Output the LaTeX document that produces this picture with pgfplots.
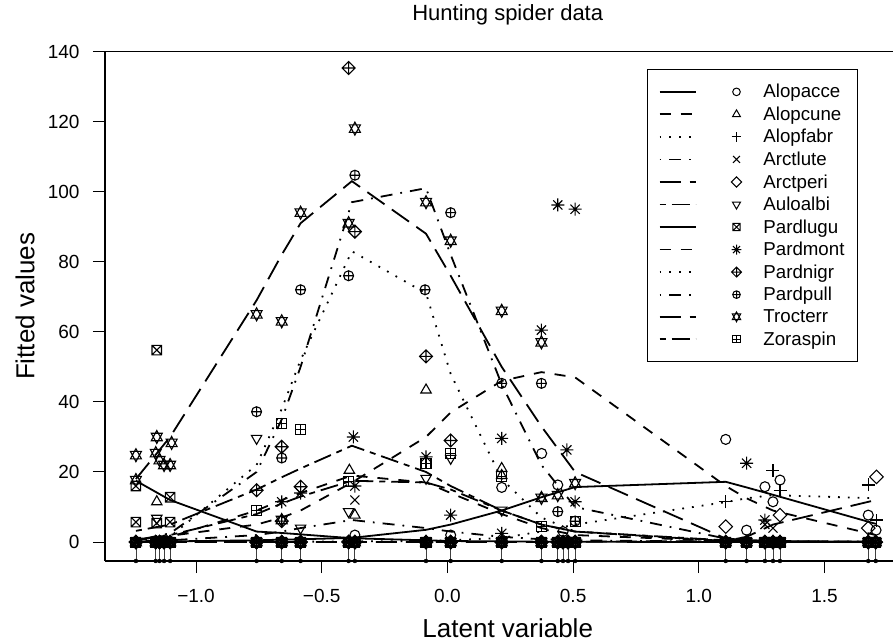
\documentclass[border=0pt]{standalone}
\usepackage{fontspec}
\setmainfont{Liberation Sans}
\usepackage{pgfplots}
\usepackage{pgfplotstable}
\pgfplotsset{compat=1.18}

% R plotting symbols (pch 2, 3, 4, 5, 6, 7, 8, 9, 11, 12)
\pgfdeclareplotmark{utri}{%
  \pgfpathmoveto{\pgfqpoint{0pt}{1.2\pgfplotmarksize}}%
  \pgfpathlineto{\pgfqpoint{1.04\pgfplotmarksize}{-0.6\pgfplotmarksize}}%
  \pgfpathlineto{\pgfqpoint{-1.04\pgfplotmarksize}{-0.6\pgfplotmarksize}}%
  \pgfpathclose\pgfusepathqstroke}
\pgfdeclareplotmark{dtri}{%
  \pgfpathmoveto{\pgfqpoint{0pt}{-1.2\pgfplotmarksize}}%
  \pgfpathlineto{\pgfqpoint{1.04\pgfplotmarksize}{0.6\pgfplotmarksize}}%
  \pgfpathlineto{\pgfqpoint{-1.04\pgfplotmarksize}{0.6\pgfplotmarksize}}%
  \pgfpathclose\pgfusepathqstroke}
\pgfdeclareplotmark{rdiam}{%
  \pgfpathmoveto{\pgfqpoint{1.35\pgfplotmarksize}{0pt}}%
  \pgfpathlineto{\pgfqpoint{0pt}{1.35\pgfplotmarksize}}%
  \pgfpathlineto{\pgfqpoint{-1.35\pgfplotmarksize}{0pt}}%
  \pgfpathlineto{\pgfqpoint{0pt}{-1.35\pgfplotmarksize}}%
  \pgfpathclose\pgfusepathqstroke}
\pgfdeclareplotmark{rx}{%
  \pgfpathmoveto{\pgfqpoint{-0.9\pgfplotmarksize}{-0.9\pgfplotmarksize}}\pgfpathlineto{\pgfqpoint{0.9\pgfplotmarksize}{0.9\pgfplotmarksize}}%
  \pgfpathmoveto{\pgfqpoint{-0.9\pgfplotmarksize}{0.9\pgfplotmarksize}}\pgfpathlineto{\pgfqpoint{0.9\pgfplotmarksize}{-0.9\pgfplotmarksize}}%
  \pgfusepathqstroke}
\pgfdeclareplotmark{rplus}{%
  \pgfpathmoveto{\pgfqpoint{-1.3\pgfplotmarksize}{0pt}}\pgfpathlineto{\pgfqpoint{1.3\pgfplotmarksize}{0pt}}%
  \pgfpathmoveto{\pgfqpoint{0pt}{-1.3\pgfplotmarksize}}\pgfpathlineto{\pgfqpoint{0pt}{1.3\pgfplotmarksize}}%
  \pgfusepathqstroke}
\pgfdeclareplotmark{dplus}{%
  \pgfpathmoveto{\pgfqpoint{1.3\pgfplotmarksize}{0pt}}%
  \pgfpathlineto{\pgfqpoint{0pt}{1.3\pgfplotmarksize}}%
  \pgfpathlineto{\pgfqpoint{-1.3\pgfplotmarksize}{0pt}}%
  \pgfpathlineto{\pgfqpoint{0pt}{-1.3\pgfplotmarksize}}%
  \pgfpathclose
  \pgfpathmoveto{\pgfqpoint{-1.3\pgfplotmarksize}{0pt}}\pgfpathlineto{\pgfqpoint{1.3\pgfplotmarksize}{0pt}}%
  \pgfpathmoveto{\pgfqpoint{0pt}{-1.3\pgfplotmarksize}}\pgfpathlineto{\pgfqpoint{0pt}{1.3\pgfplotmarksize}}%
  \pgfusepathqstroke}
\pgfdeclareplotmark{sqx}{%
  \pgfpathrectangle{\pgfqpoint{-0.95\pgfplotmarksize}{-0.95\pgfplotmarksize}}{\pgfqpoint{1.9\pgfplotmarksize}{1.9\pgfplotmarksize}}%
  \pgfpathmoveto{\pgfqpoint{-0.95\pgfplotmarksize}{-0.95\pgfplotmarksize}}\pgfpathlineto{\pgfqpoint{0.95\pgfplotmarksize}{0.95\pgfplotmarksize}}%
  \pgfpathmoveto{\pgfqpoint{-0.95\pgfplotmarksize}{0.95\pgfplotmarksize}}\pgfpathlineto{\pgfqpoint{0.95\pgfplotmarksize}{-0.95\pgfplotmarksize}}%
  \pgfusepathqstroke}
\pgfdeclareplotmark{sqplus}{%
  \pgfpathrectangle{\pgfqpoint{-\pgfplotmarksize}{-\pgfplotmarksize}}{\pgfqpoint{2\pgfplotmarksize}{2\pgfplotmarksize}}%
  \pgfpathmoveto{\pgfqpoint{-\pgfplotmarksize}{0pt}}\pgfpathlineto{\pgfqpoint{\pgfplotmarksize}{0pt}}%
  \pgfpathmoveto{\pgfqpoint{0pt}{-\pgfplotmarksize}}\pgfpathlineto{\pgfqpoint{0pt}{\pgfplotmarksize}}%
  \pgfusepathqstroke}
\pgfdeclareplotmark{star8}{%
  \pgfpathmoveto{\pgfqpoint{-1.3\pgfplotmarksize}{0pt}}\pgfpathlineto{\pgfqpoint{1.3\pgfplotmarksize}{0pt}}%
  \pgfpathmoveto{\pgfqpoint{0pt}{-1.3\pgfplotmarksize}}\pgfpathlineto{\pgfqpoint{0pt}{1.3\pgfplotmarksize}}%
  \pgfpathmoveto{\pgfqpoint{-0.92\pgfplotmarksize}{-0.92\pgfplotmarksize}}\pgfpathlineto{\pgfqpoint{0.92\pgfplotmarksize}{0.92\pgfplotmarksize}}%
  \pgfpathmoveto{\pgfqpoint{-0.92\pgfplotmarksize}{0.92\pgfplotmarksize}}\pgfpathlineto{\pgfqpoint{0.92\pgfplotmarksize}{-0.92\pgfplotmarksize}}%
  \pgfusepathqstroke}
\pgfdeclareplotmark{david}{%
  \pgfpathmoveto{\pgfqpoint{0pt}{1.3\pgfplotmarksize}}%
  \pgfpathlineto{\pgfqpoint{1.1\pgfplotmarksize}{-0.75\pgfplotmarksize}}%
  \pgfpathlineto{\pgfqpoint{-1.1\pgfplotmarksize}{-0.75\pgfplotmarksize}}%
  \pgfpathclose
  \pgfpathmoveto{\pgfqpoint{0pt}{-1.3\pgfplotmarksize}}%
  \pgfpathlineto{\pgfqpoint{1.1\pgfplotmarksize}{0.75\pgfplotmarksize}}%
  \pgfpathlineto{\pgfqpoint{-1.1\pgfplotmarksize}{0.75\pgfplotmarksize}}%
  \pgfpathclose\pgfusepathqstroke}

\pgfplotsset{
  lty1/.style={solid},
  lty2/.style={dash pattern=on 11bp off 10bp},
  lty3/.style={dash pattern=on 1.8bp off 8bp},
  lty4/.style={dash pattern=on 1.8bp off 8bp on 12bp off 8bp},
  lty5/.style={dash pattern=on 21bp off 9bp},
  lty6/.style={dash pattern=on 6bp off 6bp on 18bp off 6bp},
  fit/.style={no marks, line width=1.8bp, black, forget plot},
  pt/.style={only marks, mark size=5bp, line width=1.1bp, black, forget plot},
  rleg/.style={legend image code/.code={%
    \draw[##1,mark=none] (0bp,0bp) -- (36bp,0bp);
    \draw[##1,solid,line width=1bp,mark size=3.8bp] plot coordinates {(77bp,0bp)};
  }},
}

% fitted values at the site scores
\pgfplotstableread{
x      Alopacce Alopcune Alopfabr Arctlute Arctperi Auloalbi Pardlugu Pardmont Pardnigr Pardpull Trocterr Zoraspin
-1.239 0.1  0.5  0.0  0.2 0.0  0.5  17.5 0.8  0.3  0.5  18  3.2
-1.103 0.2  1.5  0.0  0.5 0.0  2.0  12.0 1.8  1.5  2.5  30  5.0
-0.759 0.5  9.0  0.0  2.0 0.0  8.0  3.0  5.0  22   20   69  15
-0.659 0.7  12   0.1  3.0 0.0  11   2.6  7.0  38   35   82  18.5
-0.584 0.8  14   0.1  4.0 0.0  13   2.2  9.0  52   50   91  21
-0.380 1.2  19   0.2  6.3 0.0  17.5 1.1  17   83   97   103 27.5
-0.085 3.5  17   0.3  4.0 0.0  17   0.5  30   71   101  88  20
0.013  5.0  14   0.5  3.0 0.0  15   0.3  37   48   82   76  16
0.216  9.0  8    1.2  1.5 0.0  9    0.2  46   18   45   50  9
0.374  12.8 4    3.0  0.8 0.0  5    0.1  48.5 7    22   33  5
0.508  15.7 2    5.0  0.5 0.1  3    0.1  47   3    10   20  3
1.107  17.2 0.3  11.4 0.1 0.3  0.3  0.0  16   0.2  1    1   0.5
1.190  15.6 0.2  12.5 0.1 1.5  0.2  0.0  12.5 0.1  0.6  0.6 0.3
1.295  13.5 0.1  13.4 0.0 5.0  0.1  0.0  9    0.1  0.3  0.3 0.2
1.704  5.2  0.0  12.5 0.0 12   0.0  0.0  2    0.0  0.1  0.1 0.1
}\fits

% site scores (zero counts)
\pgfplotstableread{
x y
-1.239 0
-1.160 0
-1.145 0
-1.127 0
-1.103 0
-0.759 0
-0.659 0
-0.584 0
-0.393 0
-0.368 0
-0.085 0
0.013 0
0.216 0
0.374 0
0.439 0
0.460 0
0.480 0
0.508 0
1.107 0
1.190 0
1.263 0
1.295 0
1.323 0
1.674 0
1.704 0
}\zeros

% rug of site scores, from the bottom of the axis
\pgfplotstableread{
x y
-1.239 -5.4
-1.160 -5.4
-1.145 -5.4
-1.127 -5.4
-1.103 -5.4
-0.759 -5.4
-0.659 -5.4
-0.584 -5.4
-0.393 -5.4
-0.368 -5.4
-0.085 -5.4
0.013 -5.4
0.216 -5.4
0.374 -5.4
0.439 -5.4
0.460 -5.4
0.480 -5.4
0.508 -5.4
1.107 -5.4
1.190 -5.4
1.263 -5.4
1.295 -5.4
1.323 -5.4
1.674 -5.4
1.704 -5.4
}\rug

\begin{document}
\begin{tikzpicture}
\begin{axis}[
  x=251.4bp, y=3.504bp,
  xmin=-1.362, xmax=1.842, ymin=-5.4, ymax=140,
  axis x line*=box, axis y line*=left,
  axis line style={-, line width=1.2bp},
  tick style={line width=1bp, black},
  tick align=outside, major tick length=12bp,
  xtick pos=left, ytick pos=left,
  xtick={-1,-0.5,0,0.5,1,1.5},
  xticklabels={−1.0,−0.5,0.0,0.5,1.0,1.5},
  ytick={0,20,40,60,80,100,120,140},
  yticklabels={0,20,40,60,80,100,120,140},
  tick label style={font=\fontsize{19bp}{22bp}\selectfont},
  yticklabel style={xshift=-10bp},
  xticklabel style={yshift=-13bp},
  title={Hunting spider data},
  title style={font=\fontsize{22bp}{26bp}\selectfont, at={(0.5,1)}, anchor=center, yshift=31bp},
  xlabel={Latent variable},
  xlabel style={font=\fontsize{26bp}{30bp}\selectfont, at={(0.5,0)}, anchor=center, yshift=-67bp},
  ylabel={Fitted values},
  ylabel style={font=\fontsize{26bp}{30bp}\selectfont, at={(-0.0993,0.5)}, anchor=center},
  legend style={at={(0.673,0.965)}, anchor=north west, draw=black, line width=1bp,
    fill=white, font=\fontsize{18.7bp}{21bp}\selectfont,
    inner xsep=11bp, inner ysep=12.5bp, row sep=3.5bp,
    /tikz/every odd column/.append style={column sep=19.8bp}},
  legend cell align=left,
]
\coordinate (sw) at (rel axis cs:0,0);

% rug of site scores
\addplot[only marks, mark=none, forget plot,
  error bars/.cd, y dir=plus, y fixed=4.6,
  error bar style={line width=0.8bp, black!75}, error mark=none] table {\rug};

% fitted curves
\addplot[fit, lty1] table[x=x, y=Alopacce] {\fits};
\addplot[fit, lty2] table[x=x, y=Alopcune] {\fits};
\addplot[fit, lty3] table[x=x, y=Alopfabr] {\fits};
\addplot[fit, lty4] table[x=x, y=Arctlute] {\fits};
\addplot[fit, lty5] table[x=x, y=Arctperi] {\fits};
\addplot[fit, lty6] table[x=x, y=Auloalbi] {\fits};
\addplot[fit, lty1] table[x=x, y=Pardlugu] {\fits};
\addplot[fit, lty2] table[x=x, y=Pardmont] {\fits};
\addplot[fit, lty3] table[x=x, y=Pardnigr] {\fits};
\addplot[fit, lty4] table[x=x, y=Pardpull] {\fits};
\addplot[fit, lty5] table[x=x, y=Trocterr] {\fits};
\addplot[fit, lty6] table[x=x, y=Zoraspin] {\fits};

% zero counts
\addplot[pt, mark=o] table {\zeros};
\addplot[pt, mark=utri] table {\zeros};
\addplot[pt, mark=rplus] table {\zeros};
\addplot[pt, mark=rx] table {\zeros};
\addplot[pt, mark=rdiam] table {\zeros};
\addplot[pt, mark=dtri] table {\zeros};
\addplot[pt, mark=sqx] table {\zeros};
\addplot[pt, mark=star8] table {\zeros};
\addplot[pt, mark=dplus] table {\zeros};
\addplot[pt, mark=oplus] table {\zeros};
\addplot[pt, mark=david] table {\zeros};
\addplot[pt, mark=sqplus] table {\zeros};

% observed counts
\addplot[pt, mark=o] coordinates {(1.107,29.3) (0.375,25.3) (0.439,16.3) (1.263,15.8) (1.295,11.5) (1.323,17.7) (1.674,7.7) (1.705,3.4) (1.19,3.4) (0.216,15.6) (0.46,3) (0.013,2) (-0.368,2)};
\addplot[pt, mark=utri] coordinates {(-0.085,43.4) (-0.39,20.5) (-0.368,7.7) (-1.156,11.5) (0.216,21) (0.375,12.5) (0.216,19)};
\addplot[pt, mark=rplus] coordinates {(1.295,20.5) (1.323,14.8) (1.674,16.3) (1.707,6.3) (1.107,11.5)};
\addplot[pt, mark=rx] coordinates {(-0.368,12) (1.295,4) (1.263,5)};
\addplot[pt, mark=rdiam] coordinates {(1.707,18.6) (1.107,4.4) (1.323,7.7) (1.674,4)};
\addplot[pt, mark=dtri] coordinates {(-0.759,29.6) (-1.156,6.8) (-0.393,8.7) (-0.085,18.2) (0.013,23.9) (-0.584,4) (0.216,9.1)};
\addplot[pt, mark=sqx] coordinates {(-1.239,16) (-1.239,5.7) (-1.156,54.8) (-1.156,5.4) (-1.103,12.8) (-1.103,5.7)};
\addplot[pt, mark=star8] coordinates {(0.439,96.2) (0.508,95) (0.374,60.5) (-0.374,30) (0.216,29.6) (0.475,26.3) (-0.085,24.3) (1.19,22.5) (-0.659,11.5) (-0.584,14) (0.013,7.7) (0.508,11.5) (0.216,2.5) (1.263,6.3) (-0.368,16)};
\addplot[pt, mark=dplus] coordinates {(-0.393,135.3) (-0.368,88.6) (-0.085,53) (0.013,29) (-0.659,27.2) (-0.759,14.8) (-0.584,15.8) (-0.659,6)};
\addplot[pt, mark=oplus] coordinates {(-0.368,104.7) (-0.393,76) (-0.584,72) (-0.089,72) (0.013,94) (0.216,45.3) (0.374,45.3) (0.439,8.7) (-0.759,37.2) (-0.659,24) (0.508,6)};
\addplot[pt, mark=david] coordinates {(-0.368,118) (-0.393,91) (-0.584,94) (-0.759,65) (-0.659,63) (-0.085,97) (0.013,86) (0.216,66) (0.374,57) (-1.239,24.8) (-1.156,30) (-1.160,25.4) (-1.145,23.4) (-1.127,22) (-1.103,22) (-1.097,28.3) (-1.239,17.7) (0.508,16.8) (0.439,13.4) (0.374,12.6) (-0.659,6.3)};
\addplot[pt, mark=sqplus] coordinates {(-0.659,33.9) (-0.584,32.2) (-0.085,22.5) (0.013,25.3) (-0.393,17.2) (-0.759,9.1) (0.216,18.6) (0.376,4.4) (0.508,6)};

% legend
\addlegendimage{rleg, line width=1.8bp, lty1, mark=o}
\addlegendimage{rleg, line width=1.8bp, lty2, mark=utri}
\addlegendimage{rleg, line width=1.8bp, lty3, mark=rplus}
\addlegendimage{rleg, line width=1.8bp, lty4, mark=rx}
\addlegendimage{rleg, line width=1.8bp, lty5, mark=rdiam}
\addlegendimage{rleg, line width=1.8bp, lty6, mark=dtri}
\addlegendimage{rleg, line width=1.8bp, lty1, mark=sqx}
\addlegendimage{rleg, line width=1.8bp, lty2, mark=star8}
\addlegendimage{rleg, line width=1.8bp, lty3, mark=dplus}
\addlegendimage{rleg, line width=1.8bp, lty4, mark=oplus}
\addlegendimage{rleg, line width=1.8bp, lty5, mark=david}
\addlegendimage{rleg, line width=1.8bp, lty6, mark=sqplus}
\legend{Alopacce,Alopcune,Alopfabr,Arctlute,Arctperi,Auloalbi,Pardlugu,Pardmont,Pardnigr,Pardpull,Trocterr,Zoraspin}
\end{axis}
\pgfresetboundingbox
\path ([xshift=-105bp,yshift=-82bp]sw) rectangle ([xshift=788bp,yshift=561bp]sw);
\end{tikzpicture}
\end{document}
